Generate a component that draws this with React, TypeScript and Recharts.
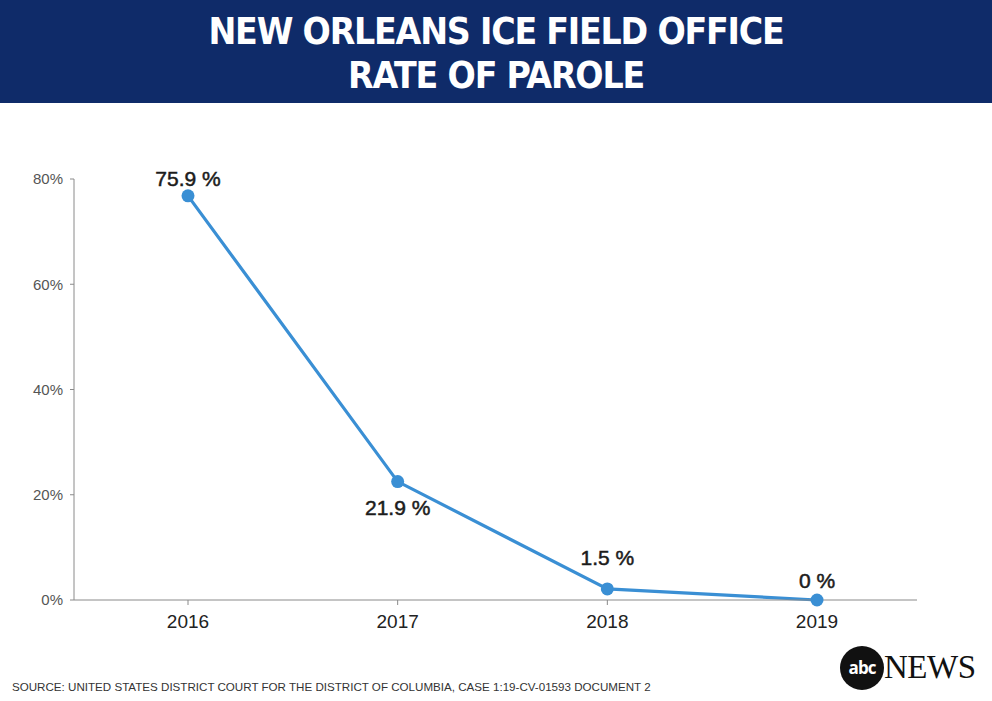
import React from 'react';
import { LineChart, Line, XAxis, YAxis, LabelList } from 'recharts';

const years = ['2016', '2017', '2018', '2019'];
const paroleRates = [76.8, 22.5, 2.1, 0];
const rateLabels = ['75.9 %', '21.9 %', '1.5 %', '0 %'];
const yTicks = [0, 20, 40, 60, 80];

const titleLines = ['NEW ORLEANS ICE FIELD OFFICE', 'RATE OF PAROLE'];
const sourceText = 'SOURCE: UNITED STATES DISTRICT COURT FOR THE DISTRICT OF COLUMBIA, CASE 1:19-CV-01593 DOCUMENT 2';

const data = years.map((year, i) => ({ year, rate: paroleRates[i], label: rateLabels[i] }));

// label baseline offsets relative to the dot (style only)
const labelDy = [-10, 33, -24, -12];

const renderLabel = (props: any) => {
  const { x, y, value } = props;
  const i = rateLabels.indexOf(value);
  return (
    <text
      x={x}
      y={y + (labelDy[i] ?? -12)}
      textAnchor="middle"
      fontSize={21}
      fill="#1c1c1c"
      stroke="#1c1c1c"
      strokeWidth={0.5}
      fontFamily="'Liberation Sans', Arial, Helvetica, sans-serif"
    >
      {value}
    </text>
  );
};

export default function App() {
  return (
    <div
      style={{
        position: 'absolute',
        left: 0,
        top: 0,
        width: 992,
        height: 701,
        background: '#ffffff',
        overflow: 'hidden',
        fontFamily: "'Liberation Sans', Arial, Helvetica, sans-serif",
      }}
    >
      <div
        style={{
          position: 'absolute',
          left: 0,
          top: 0,
          width: 992,
          height: 103,
          background: '#0f2b69',
        }}
      />
      {titleLines.map((t, i) => (
        <div
          key={t}
          style={{
            position: 'absolute',
            left: 0,
            width: 992,
            top: 10 + i * 44,
            textAlign: 'center',
            color: '#ffffff',
            fontFamily: "'Liberation Sans Narrow', 'Arial Narrow', 'DejaVu Sans Condensed', sans-serif",
            fontWeight: 700,
            fontSize: 37,
            lineHeight: '44px',
            letterSpacing: -1.2,
          }}
        >
          {t}
        </div>
      ))}
      <div style={{ position: 'absolute', left: 0, top: 0 }}>
        <LineChart
          width={992}
          height={701}
          data={data}
          margin={{ top: 179, right: 75, bottom: 71, left: 14 }}
        >
          <XAxis
            dataKey="year"
            padding={{ left: 114, right: 100 }}
            axisLine={{ stroke: '#8a8a8a', strokeWidth: 1 }}
            tickLine={{ stroke: '#8a8a8a' }}
            tickSize={5}
            tickMargin={10}
            height={30}
            tick={{ fontSize: 19, fill: '#222222' }}
          />
          <YAxis
            domain={[0, 80]}
            ticks={yTicks}
            width={60}
            axisLine={{ stroke: '#8a8a8a', strokeWidth: 1 }}
            tickLine={{ stroke: '#8a8a8a' }}
            tickSize={4}
            tickMargin={7}
            tickFormatter={(v: number) => `${v}%`}
            tick={{ fontSize: 15, fill: '#555555' }}
          />
          <Line
            type="linear"
            dataKey="rate"
            stroke="#3a8fd4"
            strokeWidth={3.2}
            dot={{ r: 6.5, fill: '#3a8fd4', stroke: '#3a8fd4', strokeWidth: 0 }}
            activeDot={false}
            isAnimationActive={false}
          >
            <LabelList dataKey="label" content={renderLabel} />
          </Line>
        </LineChart>
      </div>
      <div
        style={{
          position: 'absolute',
          left: 12,
          top: 680,
          fontSize: 11.6,
          color: '#333333',
          whiteSpace: 'nowrap',
          fontFamily: "'Liberation Sans', Arial, sans-serif",
          lineHeight: '14px',
        }}
      >
        {sourceText}
      </div>
      <div
        style={{
          position: 'absolute',
          left: 840,
          top: 646,
          width: 44,
          height: 44,
          borderRadius: '50%',
          background: '#111111',
          color: '#ffffff',
          display: 'flex',
          alignItems: 'center',
          justifyContent: 'center',
          fontFamily: "'Open Sans', 'DejaVu Sans', sans-serif",
          fontWeight: 700,
          fontSize: 17,
          letterSpacing: -1,
          lineHeight: '44px',
        }}
      >
        abc
      </div>
      <div
        style={{
          position: 'absolute',
          left: 884,
          top: 649,
          fontFamily: "'Liberation Serif', 'DejaVu Serif', serif",
          fontSize: 33,
          color: '#111111',
          lineHeight: '36px',
          letterSpacing: -0.5,
        }}
      >
        NEWS
      </div>
    </div>
  );
}
